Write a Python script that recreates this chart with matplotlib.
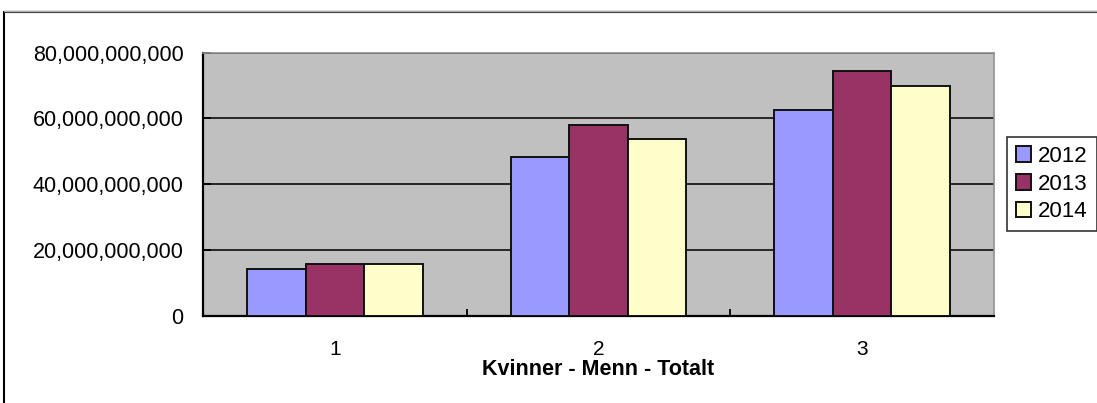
import matplotlib.pyplot as plt
import numpy as np
from matplotlib.patches import Rectangle
from matplotlib.ticker import FuncFormatter, FixedLocator

categories = ['1', '2', '3']
years = ['2012', '2013', '2014']
v2012 = [14.2e9, 48.3e9, 62.6e9]
v2013 = [15.8e9, 58.0e9, 74.3e9]
v2014 = [15.8e9, 53.8e9, 69.7e9]
colors = ['#9999ff', '#993366', '#ffffcc']

plt.rcParams['font.family'] = ['Liberation Sans', 'DejaVu Sans']

W, H = 1097, 403
fig = plt.figure(figsize=(W / 100, H / 100), dpi=100)
fig.patch.set_facecolor('white')

# outer chart frame
fig.patches.append(Rectangle((4 / W, -0.05), 1.2, 1 - 12 / H + 0.05,
                             transform=fig.transFigure, fill=False,
                             edgecolor='black', linewidth=1.5))
fig.patches.append(Rectangle((4 / W, 1 - 10.5 / H), 1.2, 0.0,
                             transform=fig.transFigure, fill=False,
                             edgecolor='#b0b0b0', linewidth=1.0))

ax = fig.add_axes([203 / W, 1 - 316 / H, (994 - 203) / W, (316 - 52.5) / H])
ax.set_facecolor('#c0c0c0')

x = np.arange(len(categories))
w = 0.222
for i, (vals, lab) in enumerate(zip([v2012, v2013, v2014], years)):
    ax.bar(x + (i - 1) * w, vals, w, color=colors[i], edgecolor='#111111',
           linewidth=1.4, label=lab, zorder=3)

ax.set_xlim(-0.5, 2.5)
ax.set_ylim(0, 80e9)
ax.set_yticks([0, 20e9, 40e9, 60e9, 80e9])
ax.yaxis.set_major_formatter(FuncFormatter(lambda v, p: f'{int(v):,}'))
ax.grid(axis='y', color='#1a1a1a', linewidth=1.3, zorder=1)

ax.set_xticks(x)
ax.set_xticklabels(categories)
ax.xaxis.set_minor_locator(FixedLocator([0.5, 1.5]))
ax.tick_params(axis='x', which='major', length=0, pad=17, labelsize=15)
ax.tick_params(axis='x', which='minor', direction='in', length=5, width=1.3, color='black')
ax.tick_params(axis='y', direction='in', length=6, width=1.3, pad=14, labelsize=15.5)

for s in ['left', 'bottom']:
    ax.spines[s].set_color('black')
    ax.spines[s].set_linewidth(1.6)
for s in ['top', 'right']:
    ax.spines[s].set_color('#909090')
    ax.spines[s].set_linewidth(1.2)

ax.set_xlabel('Kvinner - Menn - Totalt', fontsize=15.5, fontweight='bold', labelpad=0)

leg = ax.legend(loc='upper left', bbox_to_anchor=(1007 / W, 1 - 137 / H),
                bbox_transform=fig.transFigure, frameon=True, fancybox=False,
                fontsize=16, handlelength=0.7, handleheight=0.7,
                handletextpad=0.3, borderpad=0.4, labelspacing=0.3,
                borderaxespad=0)
leg.get_frame().set_edgecolor('black')
leg.get_frame().set_linewidth(1.2)

fig.savefig('out.png', dpi=100)
